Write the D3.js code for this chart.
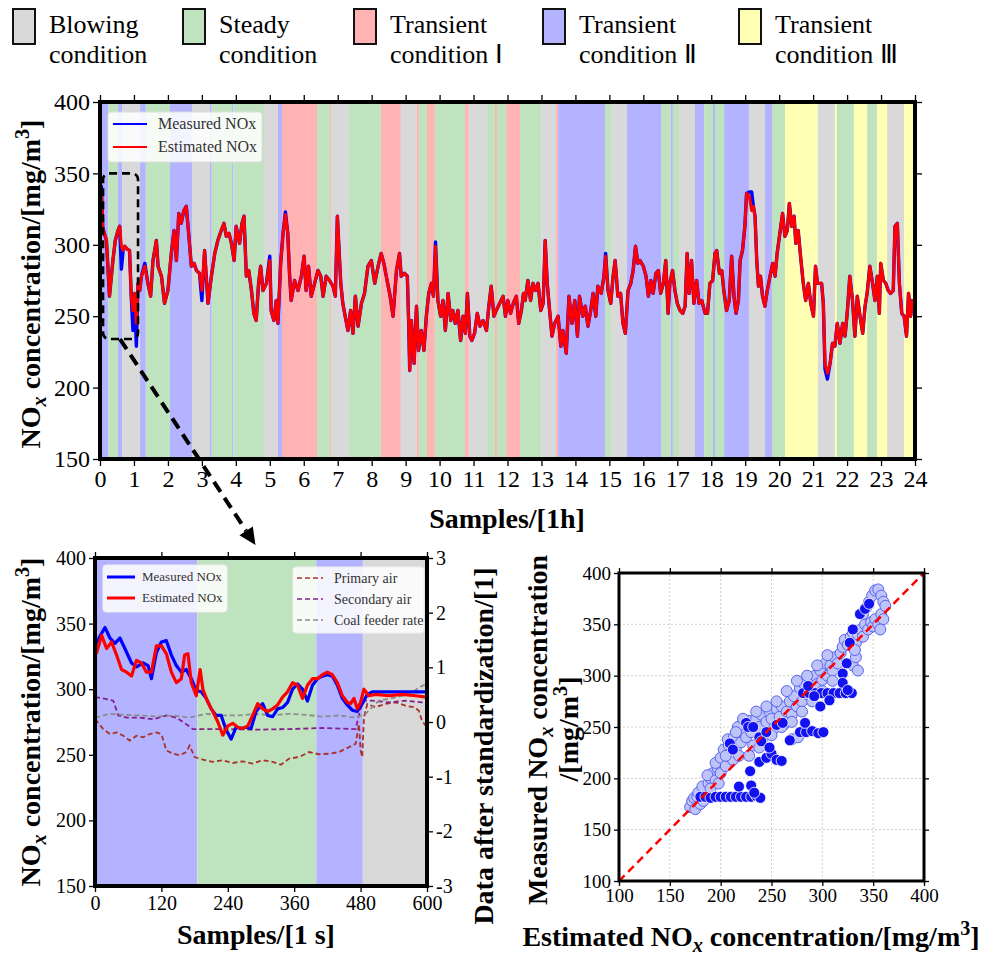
<!DOCTYPE html>
<html>
<head>
<meta charset="utf-8">
<script src="https://cdn.jsdelivr.net/npm/d3@7"></script>
<style>
body { margin: 0; background: #fff; }
svg { display: block; }
</style>
</head>
<body>
<div class="content"></div>
<script>
const W = 996;
const H = 956;

// ---- data ----
const conditionKeys = ['blow', 'steady', 't1', 't2', 't3'];
const conditionLabels = [
	['Blowing', 'condition'],
	['Steady', 'condition'],
	['Transient', 'condition \u2160'],
	['Transient', 'condition \u2161'],
	['Transient', 'condition \u2162']
];

// [start hour, end hour, condition]
const topBands = [
	[0, 0.24, 't2'], [0.24, 0.53, 'steady'], [0.53, 0.66, 't2'], [0.66, 1.18, 'blow'], [1.18, 1.35, 't2'],
	[1.35, 2.06, 'steady'], [2.06, 2.71, 't2'], [2.71, 3.24, 'blow'], [3.24, 3.29, 't2'], [3.29, 3.89, 'steady'],
	[3.89, 3.93, 't2'], [3.93, 4.83, 'steady'], [4.83, 5.24, 'blow'], [5.24, 5.36, 't2'], [5.36, 6.39, 't1'],
	[6.39, 6.77, 'steady'], [6.77, 6.80, 't1'], [6.80, 7.33, 'blow'], [7.33, 8.27, 'steady'], [8.27, 8.86, 't1'],
	[8.86, 9.33, 'blow'], [9.33, 9.39, 't1'], [9.39, 9.63, 'steady'], [9.63, 9.86, 't1'], [9.86, 10.75, 'steady'],
	[10.75, 10.86, 't1'], [10.86, 11.40, 'blow'], [11.40, 11.63, 'steady'], [11.63, 11.69, 't1'], [11.69, 11.96, 'steady'],
	[11.96, 12.37, 't1'], [12.37, 12.99, 'steady'], [12.99, 13.43, 'blow'], [13.43, 13.49, 't1'], [13.49, 14.87, 't2'],
	[14.87, 15.05, 'steady'], [15.05, 15.52, 'blow'], [15.52, 16.54, 't2'], [16.54, 16.81, 'steady'], [16.81, 16.87, 't2'],
	[16.87, 17.05, 'steady'], [17.05, 17.52, 'blow'], [17.52, 17.79, 't2'], [17.79, 18.05, 'steady'], [18.05, 18.11, 't2'],
	[18.11, 18.38, 'steady'], [18.38, 19.11, 't2'], [19.11, 19.58, 'blow'], [19.58, 19.79, 't2'], [19.79, 20.17, 'steady'],
	[20.17, 21.14, 't3'], [21.14, 21.64, 'blow'], [21.64, 21.70, 't3'], [21.70, 22.20, 'steady'], [22.20, 22.59, 't3'],
	[22.59, 22.88, 'steady'], [22.88, 23.18, 't3'], [23.18, 23.68, 'blow'], [23.68, 24, 't3']
];

// [hour, mg/m3]
const estimatedNOx = [
	[0, 325], [0.04, 338], [0.08, 312], [0.19, 303], [0.28, 264], [0.38, 289], [0.45, 303], [0.53, 310], [0.58, 313], [0.63, 299],
	[0.68, 296], [0.73, 299], [0.80, 297], [0.87, 296], [0.92, 264], [0.97, 254], [1.02, 266], [1.07, 245], [1.12, 273], [1.17, 268],
	[1.22, 278], [1.32, 285], [1.41, 273], [1.49, 264], [1.56, 289], [1.66, 303], [1.71, 285], [1.81, 278], [1.90, 259], [2.00, 268],
	[2.10, 294], [2.18, 310], [2.25, 289], [2.32, 322], [2.39, 315], [2.47, 324], [2.54, 327], [2.61, 308], [2.69, 285], [2.77, 287],
	[2.84, 282], [2.93, 280], [3.00, 268], [3.08, 296], [3.18, 259], [3.28, 278], [3.38, 294], [3.47, 303], [3.57, 310], [3.65, 315],
	[3.72, 306], [3.80, 308], [3.87, 301], [3.95, 289], [4.01, 313], [4.11, 301], [4.18, 315], [4.24, 320], [4.31, 278], [4.38, 282],
	[4.46, 268], [4.53, 252], [4.60, 247], [4.67, 273], [4.73, 285], [4.80, 268], [4.90, 273], [5.00, 289], [5.04, 254], [5.12, 247],
	[5.19, 261], [5.24, 245], [5.32, 287], [5.39, 308], [5.46, 321], [5.53, 308], [5.58, 280], [5.63, 261], [5.73, 275], [5.83, 268],
	[5.93, 278], [6.01, 292], [6.07, 268], [6.14, 285], [6.22, 264], [6.32, 273], [6.42, 282], [6.50, 278], [6.57, 264], [6.66, 278],
	[6.76, 275], [6.86, 271], [6.93, 264], [6.99, 320], [7.03, 301], [7.09, 273], [7.15, 259], [7.22, 250], [7.30, 240], [7.38, 254],
	[7.45, 238], [7.52, 264], [7.60, 243], [7.70, 259], [7.79, 266], [7.89, 285], [7.99, 289], [8.09, 273], [8.19, 285], [8.28, 294],
	[8.36, 287], [8.43, 278], [8.53, 266], [8.63, 250], [8.73, 282], [8.82, 294], [8.87, 278], [8.97, 280], [9.05, 278], [9.09, 245],
	[9.12, 212], [9.17, 247], [9.25, 217], [9.32, 257], [9.38, 226], [9.46, 240], [9.54, 226], [9.61, 250], [9.68, 266], [9.76, 273],
	[9.82, 264], [9.88, 299], [9.95, 261], [10.03, 250], [10.10, 261], [10.17, 240], [10.25, 266], [10.33, 247], [10.39, 254], [10.46, 245],
	[10.54, 254], [10.62, 233], [10.69, 250], [10.76, 238], [10.82, 266], [10.89, 236], [10.95, 233], [11.03, 238], [11.11, 252], [11.19, 243],
	[11.28, 247], [11.38, 240], [11.45, 257], [11.52, 271], [11.60, 250], [11.67, 254], [11.77, 259], [11.87, 264], [11.94, 250], [12.01, 261],
	[12.09, 252], [12.17, 259], [12.26, 264], [12.33, 245], [12.41, 254], [12.47, 266], [12.52, 261], [12.60, 275], [12.68, 261], [12.75, 273],
	[12.83, 268], [12.90, 273], [12.98, 254], [13.05, 259], [13.11, 303], [13.17, 273], [13.24, 254], [13.31, 236], [13.39, 245], [13.49, 250],
	[13.57, 229], [13.63, 240], [13.73, 224], [13.81, 264], [13.90, 245], [13.98, 261], [14.06, 236], [14.12, 264], [14.22, 250], [14.29, 257],
	[14.37, 243], [14.45, 254], [14.52, 266], [14.60, 250], [14.66, 271], [14.76, 266], [14.84, 278], [14.89, 292], [14.96, 268], [15.04, 259],
	[15.11, 278], [15.17, 289], [15.25, 264], [15.33, 266], [15.40, 245], [15.47, 238], [15.55, 268], [15.63, 273], [15.70, 282], [15.77, 299],
	[15.84, 287], [15.90, 289], [16.00, 285], [16.08, 278], [16.15, 264], [16.22, 275], [16.29, 266], [16.37, 280], [16.44, 282], [16.51, 266],
	[16.59, 273], [16.66, 289], [16.73, 252], [16.78, 273], [16.86, 282], [16.93, 268], [17.00, 259], [17.08, 254], [17.16, 252], [17.23, 257],
	[17.29, 294], [17.35, 266], [17.42, 289], [17.49, 259], [17.57, 275], [17.64, 259], [17.72, 261], [17.82, 252], [17.89, 252], [17.96, 273],
	[18.04, 275], [18.11, 294], [18.16, 296], [18.24, 280], [18.31, 282], [18.37, 268], [18.45, 254], [18.53, 261], [18.60, 292], [18.67, 264],
	[18.73, 252], [18.80, 261], [18.85, 289], [18.92, 296], [18.99, 313], [19.04, 336], [19.12, 334], [19.19, 324], [19.24, 327], [19.29, 320],
	[19.34, 289], [19.39, 271], [19.45, 278], [19.51, 264], [19.58, 257], [19.65, 268], [19.73, 278], [19.81, 287], [19.88, 278], [19.94, 294],
	[20.02, 308], [20.10, 322], [20.17, 306], [20.24, 310], [20.30, 329], [20.37, 313], [20.44, 320], [20.49, 301], [20.56, 310], [20.63, 292],
	[20.71, 273], [20.78, 261], [20.86, 273], [20.93, 259], [21.01, 250], [21.07, 285], [21.13, 273], [21.25, 273], [21.30, 259], [21.35, 217],
	[21.42, 210], [21.50, 217], [21.57, 231], [21.64, 229], [21.71, 245], [21.79, 231], [21.87, 245], [21.94, 236], [22.01, 254], [22.08, 278],
	[22.16, 261], [22.23, 236], [22.30, 264], [22.38, 250], [22.46, 238], [22.53, 257], [22.59, 266], [22.67, 285], [22.75, 273], [22.82, 261],
	[22.89, 278], [22.95, 252], [22.99, 287], [23.07, 275], [23.14, 273], [23.21, 268], [23.28, 266], [23.36, 268], [23.41, 313], [23.48, 315],
	[23.54, 273], [23.61, 252], [23.68, 250], [23.75, 236], [23.81, 266], [23.87, 250], [23.93, 262]
];

// samples where the measured curve shows apart from the estimate: [hour, mg/m3]
const measuredDeviations = [
	[0.04, 341], [0.63, 283], [0.97, 240], [1.07, 229], [1.32, 287], [3.00, 261], [5.00, 292], [5.46, 323],
	[9.88, 302], [14.89, 294], [19.12, 337], [19.19, 337], [21.35, 213], [21.42, 206]
];

const hourTicks = [0, 1, 2, 3, 4, 5, 6, 7, 8, 9, 10, 11, 12, 13, 14, 15, 16, 17, 18, 19, 20, 21, 22, 23, 24];
const noxTicks = [150, 200, 250, 300, 350, 400];

// zoomed window, first 600 s
const zoomBands = [[0, 185, 't2'], [185, 400, 'steady'], [400, 484, 't2'], [484, 600, 'blow']];
const zoomMeasured = [
	[0, 333], [3, 336], [18, 347], [27, 339], [36, 335], [45, 339], [54, 331], [66, 320], [75, 317], [87, 320],
	[96, 318], [102, 308], [111, 328], [120, 336], [129, 337], [138, 326], [147, 318], [156, 313], [165, 315], [174, 308],
	[183, 299], [192, 298], [201, 293], [210, 285], [219, 280], [228, 280], [237, 269], [246, 262], [255, 271], [264, 270],
	[273, 271], [282, 270], [291, 283], [303, 289], [312, 280], [321, 279], [330, 285], [339, 286], [348, 290], [357, 300],
	[366, 304], [375, 300], [384, 291], [393, 303], [402, 308], [411, 310], [420, 311], [429, 310], [438, 303], [447, 293],
	[456, 288], [465, 284], [474, 283], [483, 289], [492, 296], [501, 298], [519, 298], [600, 298]
];
const zoomEstimated = [
	[0, 326], [3, 328], [12, 341], [21, 331], [30, 336], [39, 326], [48, 315], [57, 313], [66, 310], [75, 322],
	[84, 320], [93, 313], [102, 313], [111, 333], [120, 333], [129, 327], [138, 313], [147, 305], [156, 308], [162, 326],
	[168, 327], [174, 305], [183, 295], [190, 315], [195, 300], [204, 290], [213, 283], [222, 275], [231, 265], [240, 272],
	[249, 274], [258, 271], [267, 270], [276, 272], [285, 280], [294, 289], [303, 285], [312, 283], [321, 285], [330, 288],
	[339, 294], [348, 298], [357, 305], [366, 303], [375, 293], [384, 303], [393, 308], [402, 308], [411, 311], [420, 313],
	[429, 311], [438, 305], [447, 295], [456, 290], [462, 289], [468, 293], [474, 285], [480, 290], [486, 300], [495, 295],
	[507, 296], [531, 295], [555, 296], [579, 295], [600, 294]
];
const primaryAir = [
	[0, 0.05], [3, 0.02], [15, -0.13], [27, -0.22], [39, -0.19], [51, -0.25], [63, -0.34], [75, -0.25], [87, -0.28], [99, -0.22],
	[111, -0.19], [120, -0.22], [129, -0.52], [141, -0.58], [153, -0.61], [165, -0.55], [171, -0.43], [180, -0.64], [195, -0.69], [213, -0.73],
	[231, -0.70], [249, -0.75], [267, -0.72], [285, -0.76], [303, -0.70], [321, -0.73], [336, -0.78], [351, -0.67], [369, -0.64], [387, -0.55],
	[405, -0.59], [423, -0.58], [441, -0.55], [459, -0.46], [471, -0.40], [477, -0.04], [480, -0.52], [483, -0.64], [486, 0.08], [492, 0.33],
	[507, 0.27], [525, 0.33], [543, 0.36], [561, 0.30], [576, 0.27], [585, 0.21], [591, 0.02], [600, -0.10]
];
const secondaryAir = [
	[0, 0.45], [3, 0.45], [21, 0.42], [33, 0.39], [42, 0.12], [57, 0.08], [81, 0.08], [105, 0.05], [129, 0.12], [147, 0.08],
	[165, -0.04], [177, -0.13], [231, -0.13], [291, -0.14], [351, -0.13], [411, -0.11], [471, -0.13], [479, 0.21], [486, 0.39], [501, 0.39],
	[531, 0.36], [561, 0.39], [591, 0.36], [600, 0.35]
];
const coalFeeder = [
	[0, 0.08], [27, 0.15], [51, 0.13], [81, 0.12], [111, 0.10], [141, 0.12], [171, 0.08], [201, 0.15], [231, 0.12], [261, 0.12],
	[291, 0.15], [321, 0.12], [351, 0.15], [381, 0.13], [411, 0.10], [441, 0.12], [471, 0.08], [489, 0.15], [513, 0.39], [543, 0.45],
	[567, 0.51], [591, 0.66], [600, 0.70]
];
const secondTicks = [0, 120, 240, 360, 480, 600];
const stdTicks = [-3, -2, -1, 0, 1, 2, 3];

// scatter: [estimated, measured]
const scatterCloud = [
	[170, 172], [172, 178], [175, 170], [174, 181], [177, 182], [180, 175], [178, 186], [183, 178], [185, 188], [182, 192],
	[188, 195], [190, 200], [192, 205], [187, 203], [195, 198], [197, 210], [200, 205], [195, 215], [200, 220], [203, 228],
	[205, 212], [208, 232], [210, 225], [212, 218], [207, 238], [213, 240], [215, 230], [218, 222], [220, 235], [222, 246],
	[217, 250], [225, 240], [228, 256], [230, 245], [232, 232], [235, 258], [238, 250], [240, 262], [242, 240], [245, 255],
	[248, 265], [250, 258], [252, 248], [255, 268], [258, 260], [260, 270], [262, 252], [265, 265], [268, 275], [270, 262],
	[272, 280], [275, 270], [278, 288], [280, 275], [282, 292], [285, 282], [288, 298], [290, 288], [293, 300], [295, 292],
	[298, 305], [300, 296], [303, 312], [305, 300], [308, 310], [310, 305], [312, 318], [315, 312], [318, 322], [320, 328],
	[322, 335], [325, 330], [328, 338], [330, 342], [333, 332], [335, 340], [338, 345], [340, 338], [342, 350], [345, 345],
	[348, 352], [350, 348], [352, 355], [355, 350], [358, 360], [360, 355], [357, 345], [340, 360], [343, 366], [346, 372],
	[349, 378], [352, 383], [355, 384], [358, 378], [360, 372], [362, 368], [330, 310], [333, 318], [335, 305], [332, 325],
	[270, 238], [276, 240], [205, 222], [215, 245], [222, 258], [235, 265], [245, 270], [255, 275], [265, 285], [275, 295],
	[285, 300], [295, 310], [305, 320], [250, 242], [260, 250], [270, 255], [280, 265], [290, 275], [300, 285], [310, 295],
	[190, 190], [198, 195], [228, 222], [238, 230]
];
const scatterApart = [
	[180, 182], [185, 182], [190, 181], [195, 182], [200, 182], [205, 182], [210, 182], [215, 182], [220, 182], [225, 182],
	[230, 182], [235, 183], [239, 181], [218, 192], [230, 193], [233, 186], [229, 207], [225, 254], [227, 250], [209, 234],
	[212, 228], [238, 216], [245, 220], [250, 224], [255, 218], [260, 217], [238, 240], [245, 245], [255, 252], [261, 254],
	[268, 237], [278, 245], [284, 245], [290, 246], [296, 244], [301, 245], [283, 254], [281, 283], [287, 283], [293, 283],
	[299, 283], [305, 283], [311, 283], [317, 283], [323, 283], [329, 283], [298, 270], [307, 276], [320, 302], [324, 312],
	[320, 293], [325, 286], [327, 332], [330, 345], [337, 360], [342, 365], [346, 370], [240, 236], [248, 230], [232, 250],
	[286, 290], [292, 280]
];
const fitTicks = [100, 150, 200, 250, 300, 350, 400];

// ---- drawing ----
const serif = "'Liberation Serif', 'Times New Roman', serif";
const colors = { blow: '#d9d9d9', steady: '#bfe3bf', t1: '#ffb3b3', t2: '#b3b3ff', t3: '#ffffb3' };

const svg = d3.select('.content').append('svg')
	.attr('width', W)
	.attr('height', H)
	.style('font-family', serif);

// text with sub/superscript pieces
function rich(text, parts, size) {
	let shift = 0;
	parts.forEach(([s, kind]) => {
		const target = kind === 'sub' ? size * 0.22 : kind === 'sup' ? -size * 0.38 : 0;
		const t = text.append('tspan').attr('dy', target - shift).text(s);
		if (kind) t.style('font-size', (size * 0.72) + 'px');
		if (kind === 'sub') t.style('font-style', 'italic');
		shift = target;
	});
}
const noxParts = (pre) => [[pre + 'NO', ''], ['x', 'sub'], [' concentration/[mg/m', ''], ['3', 'sup'], [']', '']];

function title(x, y, rotate, size) {
	return svg.append('text')
		.attr('transform', `translate(${x},${y})` + (rotate ? ' rotate(-90)' : ''))
		.attr('text-anchor', 'middle')
		.style('font-weight', 'bold')
		.style('font-size', size + 'px')
		.attr('fill', '#000');
}

function addAxis(axis, tx, ty, fontSize, labels) {
	const g = svg.append('g')
		.attr('transform', `translate(${tx},${ty})`)
		.call(axis);
	g.select('.domain').remove();
	g.selectAll('line').attr('stroke', '#000').attr('stroke-width', 1.3);
	g.selectAll('text')
		.style('font-family', serif)
		.style('font-size', fontSize + 'px')
		.attr('fill', '#000');
	if (!labels) g.selectAll('text').remove();
	return g;
}

// top legend row
const legendX = [13, 183, 354, 543, 739];
conditionKeys.forEach((k, i) => {
	const g = svg.append('g').attr('transform', `translate(${legendX[i]},9)`);
	g.append('rect')
		.attr('width', 22)
		.attr('height', 35)
		.attr('fill', colors[k])
		.attr('stroke', '#111')
		.attr('stroke-width', 2);
	g.append('text').attr('x', 36).attr('y', 24).style('font-size', '26px').text(conditionLabels[i][0]);
	g.append('text').attr('x', 36).attr('y', 54).style('font-size', '26px').text(conditionLabels[i][1]);
});

// ---- top panel ----
const xTop = d3.scaleLinear().domain([0, 24]).range([100, 915]);
const yTop = d3.scaleLinear().domain([150, 400]).range([459, 102]);

svg.append('g').selectAll('rect')
	.data(topBands)
	.join('rect')
	.attr('x', (d) => xTop(d[0]))
	.attr('width', (d) => xTop(d[1]) - xTop(d[0]))
	.attr('y', yTop(400))
	.attr('height', yTop(150) - yTop(400))
	.attr('fill', (d) => colors[d[2]]);

const measuredNOx = estimatedNOx.map(([h, v]) => {
	const dev = measuredDeviations.find((d) => d[0] === h);
	return [h, dev ? dev[1] : v];
});

const topLine = d3.line().x((d) => xTop(d[0])).y((d) => yTop(d[1]));
svg.append('path').attr('d', topLine(measuredNOx)).attr('fill', 'none').attr('stroke', '#0000ff').attr('stroke-width', 3.4).attr('stroke-linejoin', 'round');
svg.append('path').attr('d', topLine(estimatedNOx)).attr('fill', 'none').attr('stroke', '#ff0000').attr('stroke-width', 3).attr('stroke-linejoin', 'round');

svg.append('rect')
	.attr('x', xTop(0)).attr('y', yTop(400))
	.attr('width', xTop(24) - xTop(0)).attr('height', yTop(150) - yTop(400))
	.attr('fill', 'none').attr('stroke', '#000').attr('stroke-width', 4);

addAxis(d3.axisBottom(xTop).tickValues(hourTicks).tickSize(7).tickPadding(4).tickFormat((d) => d), 0, yTop(150), 24, true);
addAxis(d3.axisTop(xTop).tickValues(hourTicks).tickSize(7), 0, yTop(400), 24, false);
addAxis(d3.axisLeft(yTop).tickValues(noxTicks).tickSize(7).tickPadding(3).tickFormat((d) => d), xTop(0), 0, 24, true);
addAxis(d3.axisRight(yTop).tickValues(noxTicks).tickSize(7), xTop(24), 0, 24, false);

// legend inside top panel
const lg = svg.append('g').attr('transform', 'translate(108,112)');
lg.append('rect').attr('width', 154).attr('height', 50).attr('rx', 3)
	.attr('fill', '#fff').attr('fill-opacity', 0.85).attr('stroke', '#ddd');
[['Measured NOx', '#0000ff'], ['Estimated NOx', '#ff0000']].forEach(([t, c], i) => {
	lg.append('line').attr('x1', 5).attr('x2', 39).attr('y1', 12 + i * 23).attr('y2', 12 + i * 23)
		.attr('stroke', c).attr('stroke-width', 2);
	lg.append('text').attr('x', 50).attr('y', 17 + i * 23).style('font-size', '16px').attr('fill', '#333').text(t);
});

rich(title(40, 284, true, 28), noxParts(''), 28);
title(507, 528, false, 28).text('Samples/[1h]');

// ---- bottom-left zoom panel ----
const xBL = d3.scaleLinear().domain([0, 600]).range([95, 427]);
const yBL = d3.scaleLinear().domain([150, 400]).range([886, 558]);
const yStd = d3.scaleLinear().domain([-3, 3]).range([886, 558]);

svg.append('g').selectAll('rect')
	.data(zoomBands)
	.join('rect')
	.attr('x', (d) => xBL(d[0]))
	.attr('width', (d) => xBL(d[1]) - xBL(d[0]))
	.attr('y', yBL(400))
	.attr('height', yBL(150) - yBL(400))
	.attr('fill', (d) => colors[d[2]]);

const stdLine = d3.line().x((d) => xBL(d[0])).y((d) => yStd(d[1]));
const airSeries = [
	[primaryAir, '#a8322c'],
	[secondaryAir, '#84208a'],
	[coalFeeder, '#8c8c8c']
];
airSeries.forEach(([data, c]) => {
	svg.append('path').attr('d', stdLine(data)).attr('fill', 'none')
		.attr('stroke', c).attr('stroke-width', 1.8).attr('stroke-dasharray', '5,3');
});

const blLine = d3.line().x((d) => xBL(d[0])).y((d) => yBL(d[1]));
svg.append('path').attr('d', blLine(zoomMeasured)).attr('fill', 'none').attr('stroke', '#0000ff').attr('stroke-width', 3.2).attr('stroke-linejoin', 'round');
svg.append('path').attr('d', blLine(zoomEstimated)).attr('fill', 'none').attr('stroke', '#ff0000').attr('stroke-width', 3.2).attr('stroke-linejoin', 'round');

svg.append('rect')
	.attr('x', xBL(0)).attr('y', yBL(400))
	.attr('width', xBL(600) - xBL(0)).attr('height', yBL(150) - yBL(400))
	.attr('fill', 'none').attr('stroke', '#000').attr('stroke-width', 4);

addAxis(d3.axisBottom(xBL).tickValues(secondTicks).tickSize(6).tickPadding(4).tickFormat((d) => d), 0, yBL(150), 20, true);
addAxis(d3.axisTop(xBL).tickValues(secondTicks).tickSize(6), 0, yBL(400), 20, false);
addAxis(d3.axisLeft(yBL).tickValues(noxTicks).tickSize(6).tickPadding(3).tickFormat((d) => d), xBL(0), 0, 20, true);
addAxis(d3.axisRight(yStd).tickValues(stdTicks).tickSize(6).tickPadding(3).tickFormat((d) => String(d)), xBL(600), 0, 20, true);

const lg2 = svg.append('g').attr('transform', 'translate(103,565)');
lg2.append('rect').attr('width', 124).attr('height', 47).attr('rx', 3)
	.attr('fill', '#fff').attr('fill-opacity', 0.85).attr('stroke', '#eee');
[['Measured NOx', '#0000ff'], ['Estimated NOx', '#ff0000']].forEach(([t, c], i) => {
	lg2.append('line').attr('x1', 4).attr('x2', 32).attr('y1', 12 + i * 21).attr('y2', 12 + i * 21)
		.attr('stroke', c).attr('stroke-width', 3);
	lg2.append('text').attr('x', 39).attr('y', 16 + i * 21).style('font-size', '13px').attr('fill', '#333').text(t);
});

const lg3 = svg.append('g').attr('transform', 'translate(293,567)');
lg3.append('rect').attr('width', 131).attr('height', 66).attr('rx', 3)
	.attr('fill', '#fff').attr('fill-opacity', 0.85).attr('stroke', '#eee');
['Primary air', 'Secondary air', 'Coal feeder rate'].forEach((t, i) => {
	lg3.append('line').attr('x1', 4).attr('x2', 30).attr('y1', 11 + i * 21).attr('y2', 11 + i * 21)
		.attr('stroke', airSeries[i][1]).attr('stroke-width', 1.6).attr('stroke-dasharray', '5,3');
	lg3.append('text').attr('x', 41).attr('y', 16 + i * 21).style('font-size', '14px').attr('fill', '#333').text(t);
});

rich(title(40, 722, true, 28), noxParts(''), 28);
title(493, 746, true, 28).text('Data after standardization/[1]');
title(256, 944, false, 28).text('Samples/[1 s]');

// ---- scatter panel ----
const xS = d3.scaleLinear().domain([100, 400]).range([619, 924]);
const yS = d3.scaleLinear().domain([100, 400]).range([881, 573]);

const grid = svg.append('g').attr('stroke', '#c4c4c4').attr('stroke-width', 0.8).attr('stroke-dasharray', '2,2');
fitTicks.slice(1, -1).forEach((t) => {
	grid.append('line').attr('x1', xS(t)).attr('x2', xS(t)).attr('y1', yS(100)).attr('y2', yS(400));
	grid.append('line').attr('x1', xS(100)).attr('x2', xS(400)).attr('y1', yS(t)).attr('y2', yS(t));
});

svg.append('g').selectAll('circle')
	.data(scatterCloud)
	.join('circle')
	.attr('cx', (d) => xS(d[0]))
	.attr('cy', (d) => yS(d[1]))
	.attr('r', 5.5)
	.attr('fill', '#bfc4f8')
	.attr('stroke', '#5563f0')
	.attr('stroke-width', 1);

svg.append('g').selectAll('circle')
	.data(scatterApart)
	.join('circle')
	.attr('cx', (d) => xS(d[0]))
	.attr('cy', (d) => yS(d[1]))
	.attr('r', 5.5)
	.attr('fill', '#1212f0')
	.attr('stroke', '#fff')
	.attr('stroke-width', 0.8);

svg.append('line')
	.attr('x1', xS(100)).attr('y1', yS(100))
	.attr('x2', xS(400)).attr('y2', yS(400))
	.attr('stroke', '#ff0000').attr('stroke-width', 2.5).attr('stroke-dasharray', '8,5');

svg.append('rect')
	.attr('x', xS(100)).attr('y', yS(400))
	.attr('width', xS(400) - xS(100)).attr('height', yS(100) - yS(400))
	.attr('fill', 'none').attr('stroke', '#000').attr('stroke-width', 3);

addAxis(d3.axisBottom(xS).tickValues(fitTicks).tickSize(5).tickPadding(3).tickFormat((d) => d), 0, yS(100), 19, true);
addAxis(d3.axisTop(xS).tickValues(fitTicks).tickSize(5), 0, yS(400), 19, false);
addAxis(d3.axisLeft(yS).tickValues(fitTicks).tickSize(5).tickPadding(3).tickFormat((d) => d), xS(100), 0, 19, true);
addAxis(d3.axisRight(yS).tickValues(fitTicks).tickSize(5), xS(400), 0, 19, false);

rich(title(547, 730, true, 28), [['Measured NO', ''], ['x', 'sub'], [' concentration', '']], 28);
rich(title(578, 729, true, 28), [['/[mg/m', ''], ['3', 'sup'], [']', '']], 28);
rich(title(751, 946, false, 28), noxParts('Estimated '), 28);

// ---- zoom annotation: dashed box and arrow ----
svg.append('rect')
	.attr('x', xTop(0.09)).attr('y', yTop(350))
	.attr('width', xTop(1.12) - xTop(0.09)).attr('height', yTop(234) - yTop(350))
	.attr('rx', 6)
	.attr('fill', 'none').attr('stroke', '#000').attr('stroke-width', 2.6).attr('stroke-dasharray', '8,5');

const a0 = [xTop(0.59), yTop(234)];
const a1 = [xBL(290), yBL(400) - 13];
const len = Math.hypot(a1[0] - a0[0], a1[1] - a0[1]);
const ux = (a1[0] - a0[0]) / len;
const uy = (a1[1] - a0[1]) / len;
const headL = 17;
const headW = 8;
svg.append('line')
	.attr('x1', a0[0]).attr('y1', a0[1])
	.attr('x2', a1[0] - ux * headL).attr('y2', a1[1] - uy * headL)
	.attr('stroke', '#000').attr('stroke-width', 4).attr('stroke-dasharray', '12,7');
const bx = a1[0] - ux * headL;
const by = a1[1] - uy * headL;
svg.append('path')
	.attr('d', `M${a1[0]},${a1[1]}L${bx - uy * headW},${by + ux * headW}L${bx + uy * headW},${by - ux * headW}Z`)
	.attr('fill', '#000');
</script>
</body>
</html>
